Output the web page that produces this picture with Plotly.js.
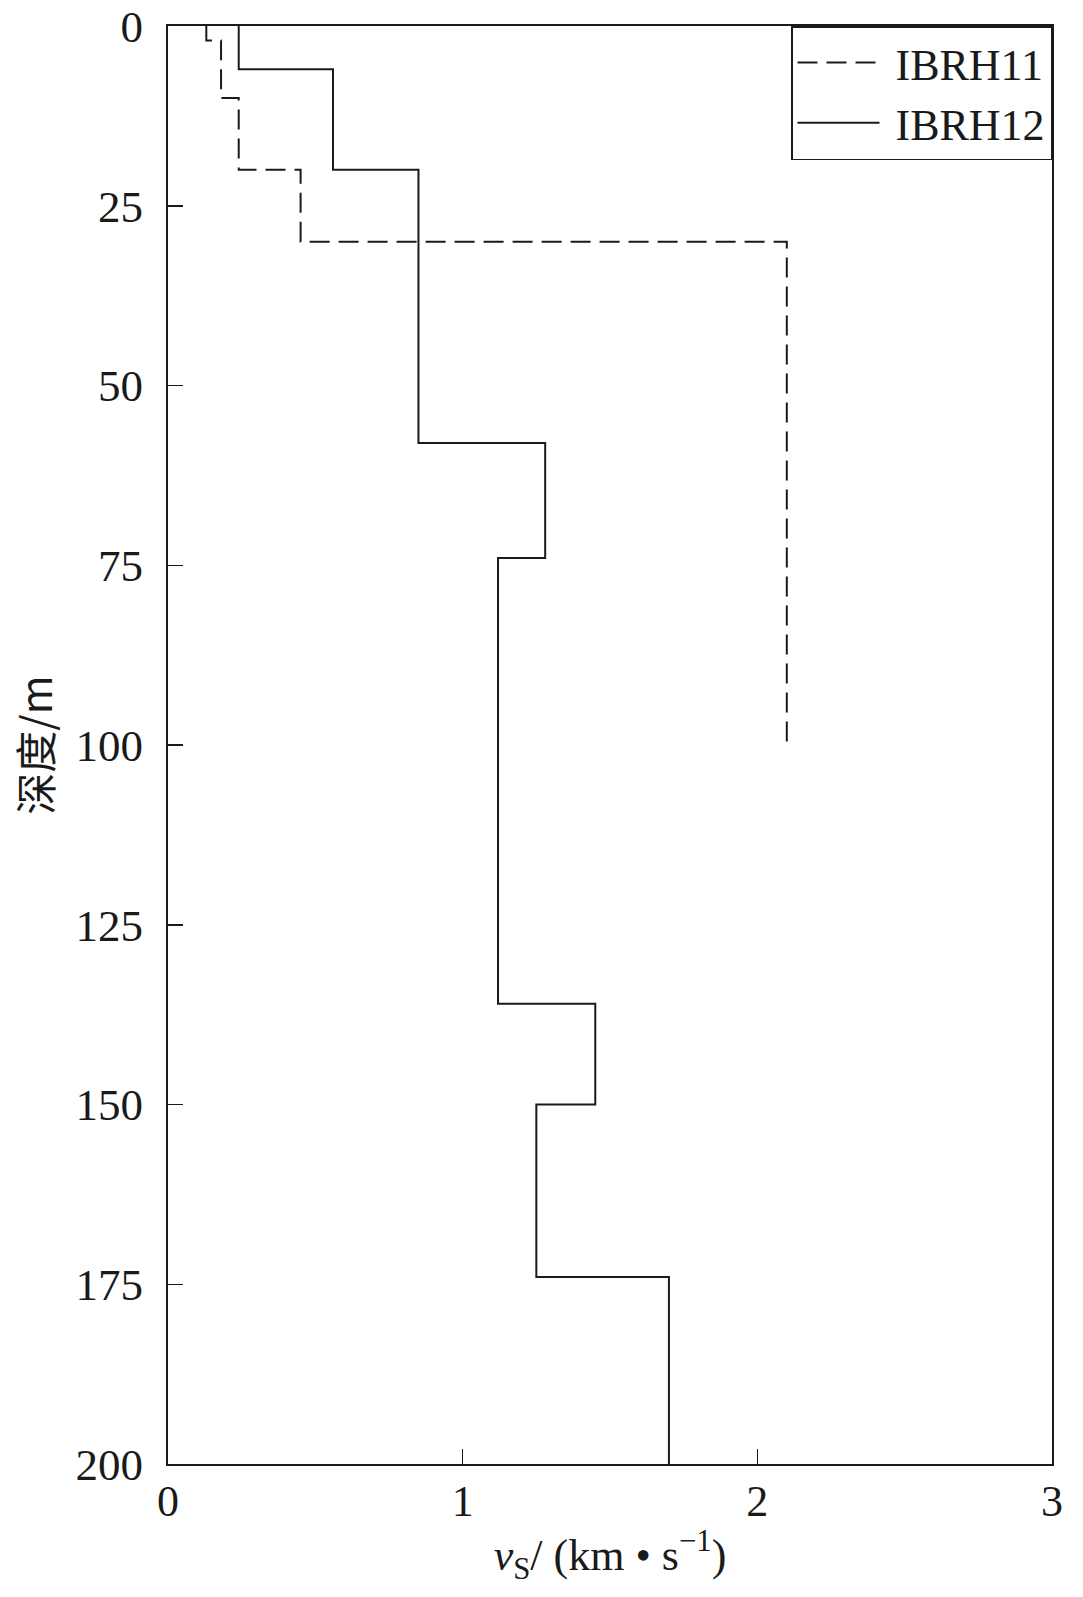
<!DOCTYPE html>
<html>
<head>
<meta charset="utf-8">
<script src="https://cdn.plot.ly/plotly-3.0.1.min.js"></script>
<style>
html,body{margin:0;padding:0;background:#fff;}
#chart{width:1083px;height:1597px;}
</style>
</head>
<body>
<div id="chart"></div>
<script>
// IBRH11 layer tops (m), shear velocities (km/s), bottom depth
const ibrh11Tops = [0, 2, 10, 20, 30];
const ibrh11Vs = [0.13, 0.18, 0.24, 0.45, 2.10];
const ibrh11Bottom = 100;
// IBRH12
const ibrh12Tops = [0, 6, 20, 58, 74, 136, 150, 174];
const ibrh12Vs = [0.24, 0.56, 0.85, 1.28, 1.12, 1.45, 1.25, 1.70];
const ibrh12Bottom = 200;

const seriesNames = ['IBRH11', 'IBRH12'];
const xTickVals = [0, 1, 2, 3];
const yTickVals = [0, 25, 50, 75, 100, 125, 150, 175, 200];

function profile(tops, vs, bottom) {
  return {
    x: vs.concat([vs[vs.length - 1]]),
    y: tops.concat([bottom])
  };
}
const p11 = profile(ibrh11Tops, ibrh11Vs, ibrh11Bottom);
const p12 = profile(ibrh12Tops, ibrh12Vs, ibrh12Bottom);

const serif = '"Liberation Serif", "Times New Roman", serif';
const traces = [
  {x: p11.x, y: p11.y, name: '\u00A0' + seriesNames[0], mode: 'lines',
   line: {shape: 'vh', color: '#1a1a1a', width: 2, dash: '20px,9px'}},
  {x: p12.x, y: p12.y, name: '\u00A0' + seriesNames[1], mode: 'lines',
   line: {shape: 'vh', color: '#1a1a1a', width: 2}}
];

const layout = {
  width: 1083, height: 1597,
  margin: {l: 168, r: 31, t: 26, b: 133},
  paper_bgcolor: '#fff', plot_bgcolor: '#fff',
  font: {family: serif, size: 44, color: '#1a1a1a'},
  showlegend: true,
  legend: {
    x: 1, y: 1, xanchor: 'right', yanchor: 'top',
    bordercolor: '#1a1a1a', borderwidth: 1.5, bgcolor: '#fff',
    font: {family: serif, size: 44, color: '#1a1a1a'},
    itemwidth: 82, tracegroupgap: 0
  },
  xaxis: {
    range: [0, 3], tickvals: xTickVals, ticktext: xTickVals.map(String),
    ticks: 'inside', ticklen: 15, tickwidth: 1.5, tickcolor: '#1a1a1a',
    showline: true, linecolor: '#1a1a1a', linewidth: 2, mirror: true,
    showgrid: false, zeroline: false, ticklabelstandoff: -3,
    tickfont: {family: serif, size: 44},
    title: {text: '<i>v</i><sub>S</sub>/ (km • s<sup>−1</sup>)', font: {family: serif, size: 44}, standoff: 14}
  },
  yaxis: {
    range: [200, 0], tickvals: yTickVals, ticktext: yTickVals.map(String),
    ticks: 'inside', ticklen: 15, tickwidth: 1.5, tickcolor: '#1a1a1a',
    showline: true, linecolor: '#1a1a1a', linewidth: 2, mirror: true,
    showgrid: false, zeroline: false, ticklabelstandoff: 14,
    tickfont: {family: serif, size: 45},
    title: {text: '深度/m', font: {family: '"Noto Sans CJK SC", ' + serif, size: 42}, standoff: 10}
  }
};

Plotly.newPlot('chart', traces, layout, {displayModeBar: false, staticPlot: true});
</script>
</body>
</html>
